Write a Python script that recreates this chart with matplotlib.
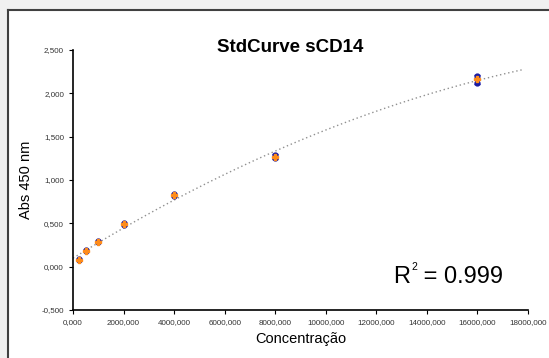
import numpy as np
import matplotlib
matplotlib.use("Agg")
import matplotlib.pyplot as plt
from matplotlib.ticker import FuncFormatter, MultipleLocator
from matplotlib.patches import Rectangle
from matplotlib.lines import Line2D

plt.rcParams['font.family'] = ['Liberation Sans', 'DejaVu Sans']

# Data
conc = [250, 500, 1000, 2000, 4000, 8000, 16000]
rep1 = [0.075, 0.180, 0.285, 0.480, 0.820, 1.250, 2.120]
rep2 = [0.085, 0.190, 0.295, 0.500, 0.840, 1.290, 2.200]
title = "StdCurve sCD14"
xlabel = "Concentração"
ylabel = "Abs 450 nm"
r2_base = "R"
r2_sup = "2"
r2_rest = " = 0.999"

x = np.array(conc, dtype=float)
r = np.vstack([rep1, rep2])
mean = r.mean(axis=0)
sd = r.std(axis=0, ddof=1)

fig = plt.figure(figsize=(5.49, 3.58), dpi=100)
fig.patch.set_facecolor('#f0f0f0')
fig.add_artist(Rectangle((8/549, 0), 1, 1 - 10/358, transform=fig.transFigure,
                         facecolor='white', edgecolor='none', zorder=0))
fig.add_artist(Line2D([8/549, 1], [1 - 10/358, 1 - 10/358], transform=fig.transFigure,
                      color='#404040', lw=1.5))
fig.add_artist(Line2D([8/549, 8/549], [0, 1 - 10/358], transform=fig.transFigure,
                      color='#404040', lw=1.5))

ax = fig.add_axes([73/549, 1 - 310/358, (528 - 73)/549, (310 - 50)/358])
ax.set_facecolor('none')

# quadratic trendline
coef = np.polyfit(x / 1000, mean, 2)
xt = np.linspace(0, 17.8, 200)
ax.plot(xt * 1000, np.polyval(coef, xt), linestyle=(0, (1, 2)), color='#909090', lw=1.0, zorder=1)

ax.errorbar(x, mean, yerr=sd, fmt='none', ecolor='#1010c0', elinewidth=1.0, capsize=2.5, capthick=1.0, zorder=2)
for rr in r:
    ax.plot(x, rr, 'o', color='#1a1aa0', ms=3.5, zorder=3, linestyle='none')
ax.plot(x, mean, 'P', color='#ff8c1a', ms=5, mec='#ff8c1a', zorder=4, linestyle='none')

ax.set_xlim(0, 18000)
ax.set_ylim(-0.5, 2.5)
ax.xaxis.set_major_locator(MultipleLocator(2000))
ax.yaxis.set_major_locator(MultipleLocator(0.5))
ax.xaxis.set_major_formatter(FuncFormatter(lambda v, p: f"{v:.3f}".replace('.', ',')))
ax.yaxis.set_major_formatter(FuncFormatter(lambda v, p: f"{v:.3f}".replace('.', ',')))
for s in ['top', 'right']:
    ax.spines[s].set_visible(False)
for s in ['left', 'bottom']:
    ax.spines[s].set_linewidth(1.2)
ax.tick_params(axis='both', labelsize=5.8, labelcolor='#333333', length=3, width=0.8, direction='out')

ax.set_xlabel(xlabel, fontsize=10.5, labelpad=4)
ax.set_ylabel(ylabel, fontsize=10.5, labelpad=6)
fig.text(290/549, 1 - 47/358, title, fontsize=13.5, fontweight='bold', ha='center', va='center')

# R^2 text with small superscript
fig.canvas.draw()
renderer = fig.canvas.get_renderer()
x0, y0 = 393/549, 1 - 283/358
t1 = fig.text(x0, y0, r2_base, fontsize=17, ha='left', va='baseline')
w1 = t1.get_window_extent(renderer).width
t2 = fig.text(x0 + (w1 + 1) / 549, y0 + 13 / 358, r2_sup, fontsize=7.5, ha='left', va='baseline')
w2 = t2.get_window_extent(renderer).width
fig.text(x0 + (w1 + 1 + w2) / 549, y0, r2_rest, fontsize=17, ha='left', va='baseline')

fig.savefig('out.png', dpi=100, facecolor=fig.get_facecolor())
